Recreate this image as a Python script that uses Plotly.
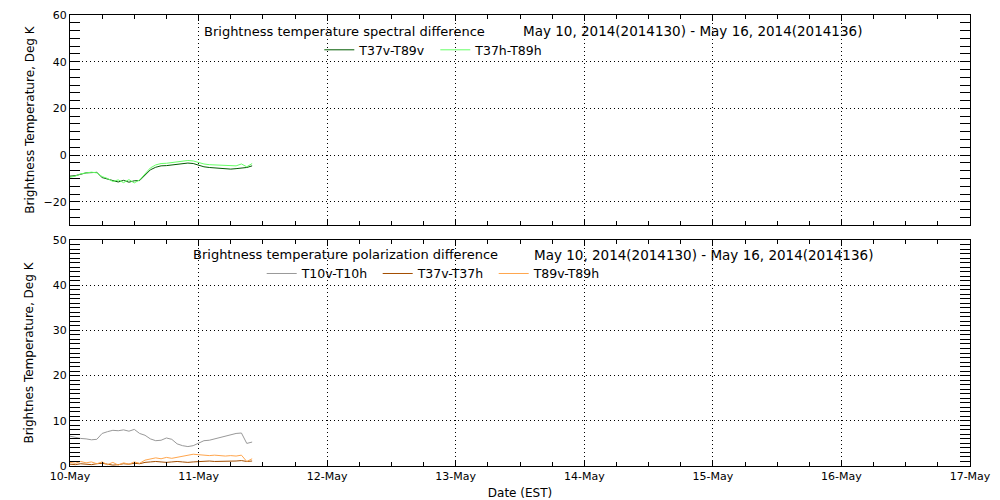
import pandas as pd
import plotly.graph_objects as go
from plotly.subplots import make_subplots

# hourly samples starting 2014-05-10 00:00 EST
times = pd.date_range("2014-05-10 00:00", periods=35, freq="h")

t37v_t89v = [-9.0, -8.8, -8.2, -7.6, -7.5, -7.4, -9.6, -10.4, -10.9, -11.5,
             -10.8, -11.6, -11.0, -10.9, -8.5, -6.3, -5.2, -4.6, -4.5, -4.2,
             -3.9, -3.6, -3.4, -3.6, -4.4, -5.0, -5.3, -5.5, -5.6, -5.9,
             -6.0, -5.8, -5.5, -5.3, -4.6]
t37h_t89h = [-9.5, -9.0, -8.0, -7.8, -7.3, -7.6, -9.2, -10.0, -11.3, -10.6,
             -11.8, -10.5, -11.9, -10.6, -8.0, -5.5, -4.2, -3.6, -3.5, -3.2,
             -2.9, -2.6, -2.3, -2.5, -3.2, -3.8, -4.1, -4.2, -4.3, -4.5,
             -4.7, -4.6, -3.8, -5.0, -3.6]

t10v_t10h = [6.6, 6.3, 6.1, 6.0, 5.8, 5.9, 7.2, 7.6, 7.9, 7.8,
             8.0, 7.7, 8.1, 7.2, 6.8, 6.0, 5.6, 5.7, 6.2, 5.9,
             4.9, 4.5, 4.3, 4.5, 5.0, 5.6, 5.7, 6.0, 6.3, 6.5,
             6.9, 7.2, 7.3, 5.0, 5.3]
t37v_t37h = [0.4, 0.3, 0.5, 0.4, 0.3, 0.5, 0.6, 0.4, 0.2, 0.3,
             0.5, 0.4, 0.6, 0.5, 0.8, 0.9, 1.0, 0.9, 0.8, 0.9,
             1.0, 0.9, 0.8, 0.9, 1.0, 1.0, 1.1, 1.0, 1.0, 1.1,
             1.0, 1.1, 1.2, 1.0, 1.1]
t89v_t89h = [0.8, 0.6, 1.0, 0.7, 0.9, 0.5, 0.9, 0.3, 0.8, 0.2,
             0.7, 0.4, 0.9, 0.6, 1.3, 1.6, 1.8, 1.6, 1.9, 1.7,
             1.9, 2.2, 2.4, 2.6, 2.5, 2.4, 2.3, 2.4, 2.3, 2.2,
             2.3, 2.2, 2.4, 1.0, 1.6]

top_ticks = [-20, 0, 20, 40, 60]
bottom_ticks = [0, 10, 20, 30, 40, 50]
day_ticks = pd.date_range("2014-05-10", "2014-05-17", freq="D")
day_labels = [d.strftime("%d-%b") for d in day_ticks]

FONT = "DejaVu Sans"
DOTS = "1px,3px"

fig = make_subplots(rows=2, cols=1, shared_xaxes=True)

fig.add_trace(go.Scatter(x=times, y=t37v_t89v, mode="lines", name="T37v-T89v",
                         line=dict(color="#005a00", width=1), legend="legend"), row=1, col=1)
fig.add_trace(go.Scatter(x=times, y=t37h_t89h, mode="lines", name="T37h-T89h",
                         line=dict(color="#66ff66", width=1), legend="legend"), row=1, col=1)
fig.add_trace(go.Scatter(x=times, y=t10v_t10h, mode="lines", name="T10v-T10h",
                         line=dict(color="#999999", width=1), legend="legend2"), row=2, col=1)
fig.add_trace(go.Scatter(x=times, y=t37v_t37h, mode="lines", name="T37v-T37h",
                         line=dict(color="#a34d00", width=1), legend="legend2"), row=2, col=1)
fig.add_trace(go.Scatter(x=times, y=t89v_t89h, mode="lines", name="T89v-T89h",
                         line=dict(color="#ffa64d", width=1), legend="legend2"), row=2, col=1)

x_common = dict(
    type="date",
    range=["2014-05-10", "2014-05-17"],
    tickvals=day_ticks,
    ticktext=day_labels,
    tickfont=dict(size=11),
    ticks="inside",
    ticklen=6,
    tickcolor="black",
    showline=True,
    linecolor="black",
    mirror="allticks",
    showgrid=True,
    gridcolor="black",
    griddash=DOTS,
    gridwidth=1,
    zeroline=False,
    automargin=False,
    minor=dict(ticks="inside", ticklen=4, dtick=6 * 3600 * 1000, tickcolor="black"),
)
y_common = dict(
    ticks="inside",
    ticklen=10,
    tickcolor="black",
    tickfont=dict(size=11),
    showline=True,
    linecolor="black",
    mirror="allticks",
    showgrid=True,
    gridcolor="black",
    griddash=DOTS,
    gridwidth=1,
    zeroline=False,
    automargin=False,
    title_font=dict(size=12),
)

fig.update_xaxes(**x_common)
fig.update_xaxes(showticklabels=False, row=1, col=1)
fig.update_xaxes(title_text="Date (EST)", title_font=dict(size=12), title_standoff=6, row=2, col=1)

fig.update_yaxes(**y_common)
fig.update_yaxes(range=[-30, 60], tickvals=top_ticks,
                 minor=dict(ticks="inside", ticklen=10, dtick=20 / 6, tick0=0, tickcolor="black"),
                 title_text="Brightness Temperature, Deg K", title_standoff=6,
                 domain=[0.534, 1.0], row=1, col=1)
fig.update_yaxes(range=[0, 50], tickvals=bottom_ticks,
                 minor=dict(ticks="inside", ticklen=10, dtick=1, tick0=0, tickcolor="black"),
                 title_text="Brightnes Temperature, Deg K", title_standoff=16,
                 domain=[0.0, 0.501], row=2, col=1)

legend_style = dict(orientation="h", xanchor="left", yanchor="middle",
                    bgcolor="rgba(0,0,0,0)", font=dict(size=12.5), itemwidth=30,
                    entrywidth=71, entrywidthmode="pixels", traceorder="normal")

# the page body adds an 8px offset, so margins are trimmed to keep the plot frame in place
fig.update_layout(
    width=1000,
    height=500,
    margin=dict(l=62, r=38, t=7, b=42),
    paper_bgcolor="white",
    plot_bgcolor="white",
    font=dict(family=FONT, size=12, color="black"),
    legend=dict(x=0.277, y=0.922, **legend_style),
    legend2=dict(x=0.213, y=0.426, **legend_style),
    annotations=[
        dict(text="Brightness temperature spectral difference", xref="paper", yref="paper",
             x=(344 - 70) / 900, y=0.9645, xanchor="center", yanchor="middle",
             showarrow=False, font=dict(size=13)),
        dict(text="May 10, 2014(2014130) - May 16, 2014(2014136)", xref="paper", yref="paper",
             x=(692 - 70) / 900, y=0.9645, xanchor="center", yanchor="middle",
             showarrow=False, font=dict(size=13.5)),
        dict(text="Brightness temperature polarization difference", xref="paper", yref="paper",
             x=(345 - 70) / 900, y=0.468, xanchor="center", yanchor="middle",
             showarrow=False, font=dict(size=13)),
        dict(text="May 10, 2014(2014130) - May 16, 2014(2014136)", xref="paper", yref="paper",
             x=(703 - 70) / 900, y=0.468, xanchor="center", yanchor="middle",
             showarrow=False, font=dict(size=13.5)),
    ],
)

fig.write_html("out.html")
